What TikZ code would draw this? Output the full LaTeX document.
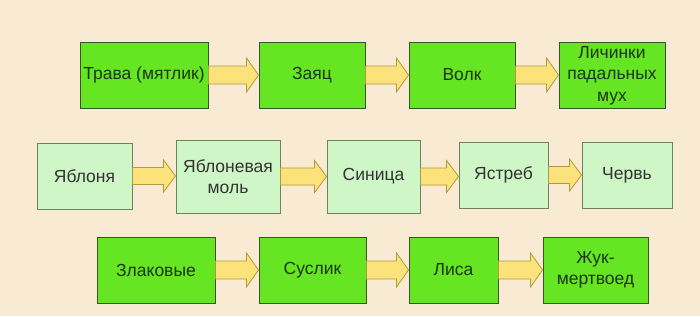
\documentclass[tikz,border=0pt]{standalone}
\usepackage{fontspec}
\setmainfont{Liberation Sans}
\usetikzlibrary{calc}
\definecolor{bgc}{HTML}{F9EBD3}
\definecolor{brightg}{HTML}{66E622}
\definecolor{lightg}{HTML}{CFF6C6}
\definecolor{darkedge}{HTML}{3A5428}
\definecolor{lightedge}{HTML}{6A845C}
\definecolor{arrfill}{HTML}{FBE27A}
\definecolor{arredge}{HTML}{B09A3E}
\definecolor{txtg}{HTML}{1E3412}
\definecolor{txtd}{HTML}{333333}
\tikzset{
  box/.style={rectangle, inner sep=0pt, align=center, line width=1pt,
    font=\fontsize{17.5}{21.5}\selectfont},
  bright/.style={box, fill=brightg, draw=darkedge, text=txtg},
  light/.style={box, fill=lightg, draw=lightedge, text=txtd},
  arr/.style={fill=arrfill, draw=arredge, line width=0.8pt, line join=miter},
}
\newcommand\blockarrow[4]{% from, to, half shaft, half head
  \draw[arr] let \p1=(#1.east), \p2=(#2.west) in
    (\x1,\y1+#3) -- (\x2-12pt,\y1+#3) -- (\x2-12pt,\y1+#4) -- (\x2,\y1)
    -- (\x2-12pt,\y1-#4) -- (\x2-12pt,\y1-#3) -- (\x1,\y1-#3) -- cycle;}
\begin{document}
\begin{tikzpicture}[x=1pt,y=-1pt]
\fill[bgc] (0,0) rectangle (700,316);
\useasboundingbox (0,0) rectangle (700,316);
% row 1
\node[bright, minimum width=128pt, minimum height=66pt] (a1) at (144,75) {Трава (мятлик)};
\node[bright, minimum width=106pt, minimum height=66pt] (a2) at (312,75) {Заяц};
\node[bright, minimum width=106pt, minimum height=66pt] (a3) at (462,75) {Волк};
\node[bright, minimum width=106pt, minimum height=66pt] (a4) at (612,75.5) {Личинки\\падальных\\мух};
% row 2
\node[light, minimum width=95pt, minimum height=66pt] (b1) at (84.5,176) {Яблоня};
\node[light, minimum width=104pt, minimum height=73pt] (b2) at (228,176.5) {Яблоневая\\моль};
\node[light, minimum width=93pt, minimum height=73pt] (b3) at (373.5,176.5) {Синица};
\node[light, minimum width=89pt, minimum height=66pt] (b4) at (503.5,175) {Ястреб};
\node[light, minimum width=90pt, minimum height=66pt] (b5) at (627,175) {Червь};
% row 3
\node[bright, minimum width=118pt, minimum height=66pt] (c1) at (156,270) {Злаковые};
\node[bright, minimum width=107pt, minimum height=66pt] (c2) at (312.5,270) {Суслик};
\node[bright, minimum width=89pt, minimum height=66pt] (c3) at (453.5,270) {Лиса};
\node[bright, minimum width=105pt, minimum height=66pt] (c4) at (595.5,270) {Жук-\\мертвоед};
% arrows
\blockarrow{a1}{a2}{9pt}{17pt}
\blockarrow{a2}{a3}{9pt}{17pt}
\blockarrow{a3}{a4}{9pt}{17pt}
\blockarrow{b1}{b2}{8.5pt}{16pt}
\blockarrow{b2}{b3}{8.5pt}{16pt}
\blockarrow{b3}{b4}{8.5pt}{16pt}
\blockarrow{b4}{b5}{8.5pt}{16pt}
\blockarrow{c1}{c2}{9pt}{17pt}
\blockarrow{c2}{c3}{9pt}{17pt}
\blockarrow{c3}{c4}{9pt}{17pt}
\end{tikzpicture}
\end{document}
